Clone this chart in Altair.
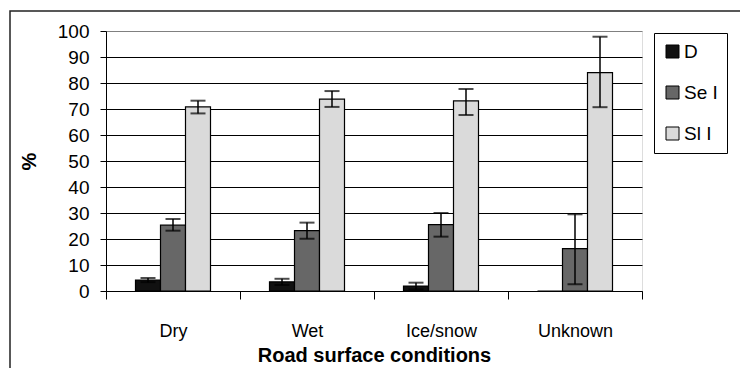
import altair as alt
import pandas as pd

categories = ["Dry", "Wet", "Ice/snow", "Unknown"]
series = ["D", "Se I", "Sl I"]

d_values = [4.2, 3.5, 1.9, 0.0]
d_low = [3.4, 2.3, 0.6, None]
d_high = [5.0, 4.7, 3.2, None]

se_values = [25.3, 23.2, 25.5, 16.3]
se_low = [23.2, 20.1, 20.9, 2.6]
se_high = [27.7, 26.3, 30.0, 29.5]

sl_values = [70.8, 73.8, 73.1, 84.0]
sl_low = [68.3, 70.8, 67.7, 70.7]
sl_high = [73.2, 76.9, 77.7, 97.8]

colors = ["#111111", "#676767", "#dadada"]
y_ticks = list(range(0, 101, 10))

rows = []
for s, vals, lo, hi in zip(series,
                           [d_values, se_values, sl_values],
                           [d_low, se_low, sl_low],
                           [d_high, se_high, sl_high]):
    for c, v, l, h in zip(categories, vals, lo, hi):
        rows.append({"cat": c, "series": s, "value": v, "low": l, "high": h})
df = pd.DataFrame(rows)
err = df.dropna(subset=["low"])

FONT = "Liberation Sans"

x_enc = alt.X(
    "cat:N", sort=categories, title="Road surface conditions",
    scale=alt.Scale(paddingInner=0, paddingOuter=0),
    axis=alt.Axis(
        labelAngle=0, tickBand="extent", tickSize=8, tickColor="black",
        domainColor="black", labelFont=FONT, labelFontSize=18, labelColor="black",
        labelPadding=23, titleFont=FONT, titleFontSize=20, titleFontWeight="bold",
        titleColor="black", titlePadding=5, grid=False,
    ),
)
# two empty slots around the three bars keep the group narrow inside each category
offset_domain = ["_l"] + series + ["_r"]
xoff = alt.XOffset("series:N",
                   scale=alt.Scale(domain=offset_domain, paddingInner=0, paddingOuter=0.18))

y_axis = alt.Axis(
    values=y_ticks, tickSize=6, tickColor="black", domainColor="black",
    labelFont=FONT, labelFontSize=19, labelColor="black", labelPadding=11,
    labelOverlap=False,
    titleFont=FONT, titleFontSize=20, titleFontWeight="bold", titleColor="black",
    titlePadding=18, grid=True,
    gridColor={"condition": {"test": "datum.value === 100", "value": "#808080"}, "value": "black"},
    gridWidth=1,
)
y_scale = alt.Scale(domain=[0, 100], nice=False)

base = alt.Chart(df)

bars = base.mark_bar(stroke="black", strokeWidth=1.2).encode(
    x=x_enc, xOffset=xoff,
    y=alt.Y("value:Q", scale=y_scale, axis=y_axis, title="%"),
    color=alt.Color(
        "series:N", sort=series,
        scale=alt.Scale(domain=series, range=colors),
        legend=alt.Legend(
            title=None, orient="none", legendX=548, legendY=2,
            strokeColor="black", fillColor="white", padding=9,
            symbolType="square", symbolSize=169, symbolStrokeColor="black",
            symbolStrokeWidth=1, labelFont=FONT, labelFontSize=19,
            labelColor="black", rowPadding=21, labelOffset=2,
        ),
    ),
)

eb = alt.Chart(err)
rule = eb.mark_rule(color="black", strokeWidth=1.5).encode(
    x=x_enc, xOffset=xoff,
    y=alt.Y("low:Q", scale=y_scale, axis=y_axis, title="%"), y2="high:Q",
)
cap_hi = eb.mark_tick(color="black", thickness=2, size=15).encode(
    x=x_enc, xOffset=xoff, y=alt.Y("high:Q", scale=y_scale, axis=y_axis, title="%"),
)
cap_lo = eb.mark_tick(color="black", thickness=2, size=15).encode(
    x=x_enc, xOffset=xoff, y=alt.Y("low:Q", scale=y_scale, axis=y_axis, title="%"),
)

frame = alt.Chart(alt.Data(values=[{"f": 1}])).mark_rect(
    filled=False, stroke="#222222", strokeWidth=1.5
).encode(
    x=alt.value(-96), x2=alt.value(760), y=alt.value(-20), y2=alt.value(420)
)

chart = alt.layer(frame, bars, rule, cap_hi, cap_lo).properties(
    width=536, height=260,
    padding={"left": 98, "top": 23, "right": 98, "bottom": 77},
    autosize=alt.AutoSizeParams(type="none"),
).configure_view(stroke="#808080", strokeWidth=1).configure(background="white")

chart.save("out.html", embed_options={"renderer": "svg", "actions": False})
